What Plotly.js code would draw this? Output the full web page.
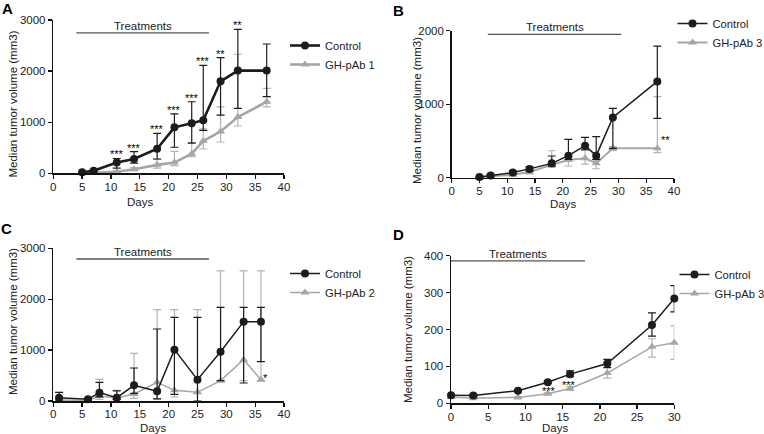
<!DOCTYPE html>
<html>
<head>
<meta charset="utf-8">
<script src="https://cdn.plot.ly/plotly-3.0.1.min.js"></script>
<style>html,body{margin:0;padding:0;background:#fff;}#chart{width:764px;height:434px;}</style>
</head>
<body>
<div id="chart"></div>
<script>
// ---------- Panel A ----------
const daysA = [5, 7, 11, 14, 18, 21, 24, 26, 29, 32, 37];
const ctrlA = [20, 50, 210, 280, 480, 900, 980, 1040, 1800, 2010, 2010];
const ctrlA_hi = [30, 70, 290, 424, 783, 1161, 1400, 2113, 2263, 2818, 2530];
const ctrlA_lo = [10, 30, 100, 200, 280, 510, 590, 840, 1140, 1270, 1500];
const pabA = [0, 5, 30, 80, 165, 210, 385, 630, 820, 1100, 1400];
const pabA_hi = [5, 10, 50, 110, 274, 430, 600, 870, 1300, 2330, 1660];
const pabA_lo = [0, 0, 10, 50, 100, 150, 326, 476, 613, 926, 1300];
const starDaysA = [11, 14, 18, 21, 24, 26, 29, 32];
const starLabelsA = ['***', '***', '***', '***', '***', '***', '**', '**'];

// ---------- Panel B ----------
const daysB = [5, 7, 11, 14, 18, 21, 24, 26, 29, 37];
const ctrlB = [10, 30, 70, 120, 195, 300, 435, 300, 820, 1310];
const ctrlB_hi = [20, 45, 90, 150, 295, 522, 549, 558, 943, 1791];
const ctrlB_lo = [0, 20, 50, 90, 160, 250, 380, 250, 400, 807];
const pabB = [0, 20, 40, 77, 177, 240, 263, 195, 399, 399];
const pabB_hi = [10, 30, 55, 110, 367, 300, 376, 240, 422, 1102];
const pabB_lo = [0, 10, 25, 50, 140, 159, 186, 122, 370, 340];
const starB = {day: 38.4, value: 558, label: '**'};

// ---------- Panel C ----------
const daysC = [1, 6, 8, 11, 14, 18, 21, 25, 29, 33, 36];
const ctrlC = [65, 33, 164, 65, 308, 190, 1009, 419, 969, 1559, 1559];
const ctrlC_hi = [170, 50, 367, 200, 648, 1415, 1644, 1644, 1840, 1840, 1840];
const ctrlC_lo = [20, 10, 80, 30, 150, 40, 130, 0, 400, 354, 773];
const pabC = [20, 10, 98, 60, 138, 367, 210, 170, 400, 812, 419];
const pabC_hi = [170, 20, 426, 210, 937, 1795, 1795, 1795, 2555, 2555, 2555];
const pabC_lo = [0, 0, 30, 20, 50, 40, 79, 150, 380, 400, 400];
const starC = {day: 36.8, value: 511, label: '*'};

// ---------- Panel D ----------
const daysD = [0, 3, 9, 13, 16, 21, 27, 30];
const ctrlD = [22, 21, 34, 57, 79, 108, 212, 284];
const ctrlD_hi = [25, 24, 37, 60, 88, 119, 245, 319];
const ctrlD_lo = [19, 18, 31, 54, 72, 97, 182, 248];
const pabD = [17, 14, 16, 26, 40, 82, 153, 164];
const pabD_hi = [19, 16, 18, 28, 45, 95, 175, 210];
const pabD_lo = [15, 12, 14, 24, 35, 68, 125, 119];
const starDaysD = [13.1, 15.9];
const starValuesD = [40, 56];

// ---------- Treatment bars ----------
const treatA = {start: 4, end: 27, value: 2750};
const treatB = {start: 6.5, end: 30.5, value: 1950};
const treatC = {start: 4, end: 27, value: 2790};
const treatD = {start: 0, end: 18, value: 386};

const seriesNames = ['Control', 'GH-pAb 1', 'GH-pAb 3', 'GH-pAb 2', 'GH-pAb 3'];

const FONT = 'Liberation Sans, Arial, Helvetica, sans-serif';
const FS = 11.5;
const LFS = 11.2;
const BLACK = '#1c1c1c';
const GRAY = '#a6a6a6';
const GRAYERR = '#b4b4b4';

function err(vals, hi, lo, color) {
  return {
    type: 'data', symmetric: false,
    array: vals.map((v, i) => Math.max(0, hi[i] - v)),
    arrayminus: vals.map((v, i) => Math.max(0, v - lo[i])),
    color: color, thickness: 1.2, width: 4
  };
}

function trace(x, y, hi, lo, name, isCtrl, ax, legend, lw) {
  const color = isCtrl ? BLACK : GRAY;
  return {
    x: x, y: y, name: name, type: 'scatter', mode: 'lines+markers',
    xaxis: 'x' + ax, yaxis: 'y' + ax, legend: legend,
    line: {color: color, width: lw},
    marker: {symbol: isCtrl ? 'circle' : 'triangle-up', size: 8, color: color},
    error_y: err(y, hi, lo, isCtrl ? BLACK : GRAYERR),
    cliponaxis: false
  };
}

const data = [
  trace(daysA, pabA, pabA_hi, pabA_lo, seriesNames[1], false, '', 'legend', 2.6),
  trace(daysA, ctrlA, ctrlA_hi, ctrlA_lo, seriesNames[0], true, '', 'legend', 2.6),
  trace(daysB, pabB, pabB_hi, pabB_lo, seriesNames[2], false, '2', 'legend2', 2),
  trace(daysB, ctrlB, ctrlB_hi, ctrlB_lo, seriesNames[0], true, '2', 'legend2', 1.5),
  trace(daysC, pabC, pabC_hi, pabC_lo, seriesNames[3], false, '3', 'legend3', 1.5),
  trace(daysC, ctrlC, ctrlC_hi, ctrlC_lo, seriesNames[0], true, '3', 'legend3', 1.5),
  trace(daysD, pabD, pabD_hi, pabD_lo, seriesNames[4], false, '4', 'legend4', 1.5),
  trace(daysD, ctrlD, ctrlD_hi, ctrlD_lo, seriesNames[0], true, '4', 'legend4', 1.5)
];

function xAxis(domain, range, dtick, anchor) {
  return {
    domain: domain, range: range, dtick: dtick, tick0: 0, anchor: anchor,
    showline: true, linecolor: '#111', linewidth: 1.5, mirror: false,
    ticks: 'outside', ticklen: 4, tickwidth: 1.3, tickcolor: '#111',
    ticklabelstandoff: -2, automargin: false,
    showgrid: false, zeroline: false, fixedrange: true,
    tickfont: {family: FONT, size: FS, color: '#222'}
  };
}
function yAxis(domain, range, dtick, anchor) {
  return {
    domain: domain, range: range, dtick: dtick, tick0: 0, anchor: anchor,
    showline: true, linecolor: '#111', linewidth: 1.5, automargin: false,
    ticks: 'outside', ticklen: 4, tickwidth: 1.3, tickcolor: '#111',
    showgrid: false, zeroline: false, fixedrange: true,
    tickfont: {family: FONT, size: FS, color: '#222'}
  };
}

const W = 764, H = 434;
const px = v => v / W;
const py = v => 1 - v / H;

const treatShape = (t, ax) => ({
  type: 'line', xref: 'x' + ax, yref: 'y' + ax,
  x0: t.start, x1: t.end, y0: t.value, y1: t.value,
  line: {color: '#555', width: 1.3}
});
const treatText = (t, ax) => ({
  xref: 'x' + ax, yref: 'y' + ax, x: (t.start + t.end) / 2, y: t.value,
  text: 'Treatments', showarrow: false, yanchor: 'bottom', yshift: -1,
  font: {family: FONT, size: FS, color: '#222'}
});

const annotations = [];
[treatA, treatB, treatC, treatD].forEach((t, i) => annotations.push(treatText(t, ['', '2', '3', '4'][i])));

const STARFONT = {family: FONT, size: 11, color: '#000000'};
starDaysA.forEach((d, i) => {
  const idx = daysA.indexOf(d);
  annotations.push({xref: 'x', yref: 'y', x: d, y: ctrlA_hi[idx], text: starLabelsA[i],
    showarrow: false, yanchor: 'bottom', yshift: -4, font: STARFONT});
});
annotations.push({xref: 'x2', yref: 'y2', x: starB.day, y: starB.value, text: starB.label,
  showarrow: false, yanchor: 'middle', yshift: -3, font: STARFONT});
annotations.push({xref: 'x3', yref: 'y3', x: starC.day, y: starC.value, text: starC.label,
  showarrow: false, yanchor: 'middle', yshift: -3, font: STARFONT});
starDaysD.forEach((d, i) => annotations.push({xref: 'x4', yref: 'y4', x: d, y: starValuesD[i], text: '***',
  showarrow: false, yanchor: 'middle', yshift: -2, font: STARFONT}));

// panel letters
[['A', 7.5, 8], ['B', 398, 11], ['C', 7, 228.5], ['D', 398, 234.5]].forEach(([t, x, y]) =>
  annotations.push({xref: 'paper', yref: 'paper', x: px(x), y: py(y), text: '<b>' + t + '</b>',
    showarrow: false, xanchor: 'center', yanchor: 'middle', font: {family: FONT, size: 15, color: '#000'}}));

// y titles
[[12.5, 104], [417, 110], [12.5, 321.5], [408, 330]].forEach(([x, y]) =>
  annotations.push({xref: 'paper', yref: 'paper', x: px(x), y: py(y), text: 'Median tumor volume (mm3)',
    textangle: -90, showarrow: false, xanchor: 'center', yanchor: 'middle',
    font: {family: FONT, size: FS, color: '#222'}}));
// x titles
[[140, 201.5], [563, 204.5], [152.5, 427.5], [554.5, 427.5]].forEach(([x, y]) =>
  annotations.push({xref: 'paper', yref: 'paper', x: px(x), y: py(y), text: 'Days',
    showarrow: false, xanchor: 'center', yanchor: 'middle', font: {family: FONT, size: FS, color: '#222'}}));

const legendStyle = (x, y) => ({
  xref: 'container', yref: 'container',
  x: px(x), y: py(y), xanchor: 'left', yanchor: 'top', bgcolor: 'rgba(0,0,0,0)',
  font: {family: FONT, size: LFS, color: '#222'}, traceorder: 'reversed', itemwidth: 30,
  tracegroupgap: 0, borderwidth: 0
});

const layout = {
  width: W, height: H, margin: {l: 0, r: 0, t: 0, b: 0, autoexpand: false},
  paper_bgcolor: '#fff', plot_bgcolor: 'rgba(0,0,0,0)',
  font: {family: FONT, size: FS, color: '#222'},
  xaxis: xAxis([px(53.3), px(284)], [0, 40], 5, 'y'),
  yaxis: yAxis([py(173.3), py(20)], [0, 3000], 1000, 'x'),
  xaxis2: xAxis([px(451.7), px(674)], [0, 40], 5, 'y2'),
  yaxis2: yAxis([py(177.7), py(30.7)], [0, 2000], 1000, 'x2'),
  xaxis3: xAxis([px(53.3), px(284)], [0, 40], 5, 'y3'),
  yaxis3: yAxis([py(401), py(248.3)], [0, 3000], 1000, 'x3'),
  xaxis4: xAxis([px(451), px(674.3)], [0, 30], 5, 'y4'),
  yaxis4: yAxis([py(403.3), py(255.7)], [0, 400], 100, 'x4'),
  legend: legendStyle(285, 31),
  legend2: legendStyle(672.5, 9),
  legend3: legendStyle(285, 259),
  legend4: legendStyle(674.5, 260),
  shapes: [treatShape(treatA, ''), treatShape(treatB, '2'), treatShape(treatC, '3'), treatShape(treatD, '4')],
  annotations: annotations,
  showlegend: true
};

Plotly.newPlot('chart', data, layout, {displayModeBar: false, staticPlot: true});
</script>
</body>
</html>
